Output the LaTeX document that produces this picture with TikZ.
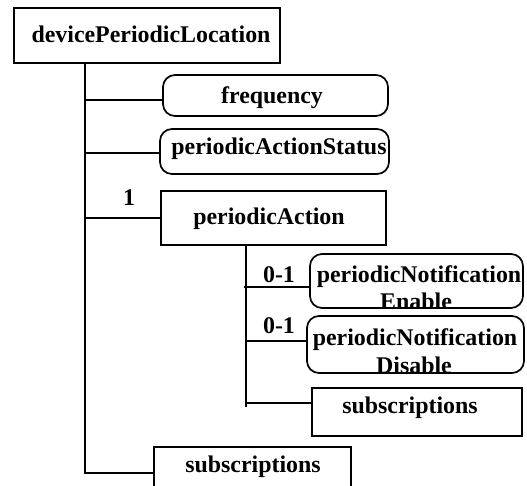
\documentclass[tikz,border=0pt]{standalone}
\usepackage{fontspec}
\setmainfont{Liberation Serif}
\begin{document}
\begin{tikzpicture}[x=1pt,y=-1pt,
  line width=1.7pt,
  every node/.style={font=\fontsize{23.9}{27}\selectfont\bfseries, inner sep=0pt},
  sqbox/.style={draw, rectangle, line width=1.7pt},
  rbox/.style={draw, rectangle, rounded corners=12pt, line width=1.7pt},
  lbl/.style={anchor=base}]
\clip (0,0) rectangle (527,485);
\fill[white] (0,0) rectangle (527,485);

% boxes given by their corners
\newcommand{\boxat}[6]{%
  \node[#1, minimum width={#4-#2}, minimum height={#5-#3}] (#6) at ({(#2+#4)/2},{(#3+#5)/2}) {};}
\boxat{sqbox}{14}{8}{280}{63}{root}
\boxat{rbox}{163}{75}{388}{116}{freq}
\boxat{rbox}{160}{129}{389}{174}{pas}
\boxat{sqbox}{161}{191}{386}{245}{pa}
\boxat{rbox}{310}{254}{523}{308}{pne}
\boxat{rbox}{307}{316}{524}{373}{pnd}
\boxat{sqbox}{312}{388}{522}{436}{subsa}
\boxat{sqbox}{154}{447}{351}{499}{subsb}

% box texts
\node[lbl] at (151,42) {devicePeriodicLocation};
\node[lbl] at (272,103) {frequency};
\node[lbl] at (279,154) {periodicActionStatus};
\node[lbl] at (269,224) {periodicAction};
\begin{scope}
  \clip[rounded corners=12pt] ([shift={(0.8,0.8)}]pne.north west) rectangle ([shift={(-0.8,-0.8)}]pne.south east);
  \node[lbl] at (419,282) {periodicNotification};
  \node[lbl] at (416,309) {Enable};
\end{scope}
\begin{scope}
  \clip[rounded corners=12pt] ([shift={(0.8,0.8)}]pnd.north west) rectangle ([shift={(-0.8,-0.8)}]pnd.south east);
  \node[lbl] at (415,345) {periodicNotification};
  \node[lbl] at (414,373) {Disable};
\end{scope}
\node[lbl] at (410,413) {subscriptions};
\node[lbl] at (253,472) {subscriptions};

% multiplicities
\node[lbl] (m1) at (129,205) {1};
\node[lbl] (m2) at (279,282) {0-1};
\node[lbl] (m3) at (279,333) {0-1};

% main trunk
\coordinate (t0) at (85,63);
\coordinate (t1) at (85,100);
\coordinate (t2) at (85,153);
\coordinate (t3) at (85,218);
\coordinate (t4) at (85,473);
\draw (t0) -- (t4) -- (t4 -| subsb.west);
\draw (t1) -- (t1 -| freq.west);
\draw (t2) -- (t2 -| pas.west);
\draw (t3) -- (t3 -| pa.west);

% periodicAction trunk
\coordinate (s0) at (246,245);
\coordinate (s1) at (244,287);
\coordinate (s2) at (246,341);
\coordinate (s3) at (246,403);
\coordinate (s4) at (246,407);
\draw (s0) -- (s4);
\draw (s1) -- (s1 -| pne.west);
\draw (s2) -- (s2 -| pnd.west);
\draw (s3) -- (s3 -| subsa.west);
\end{tikzpicture}
\end{document}
